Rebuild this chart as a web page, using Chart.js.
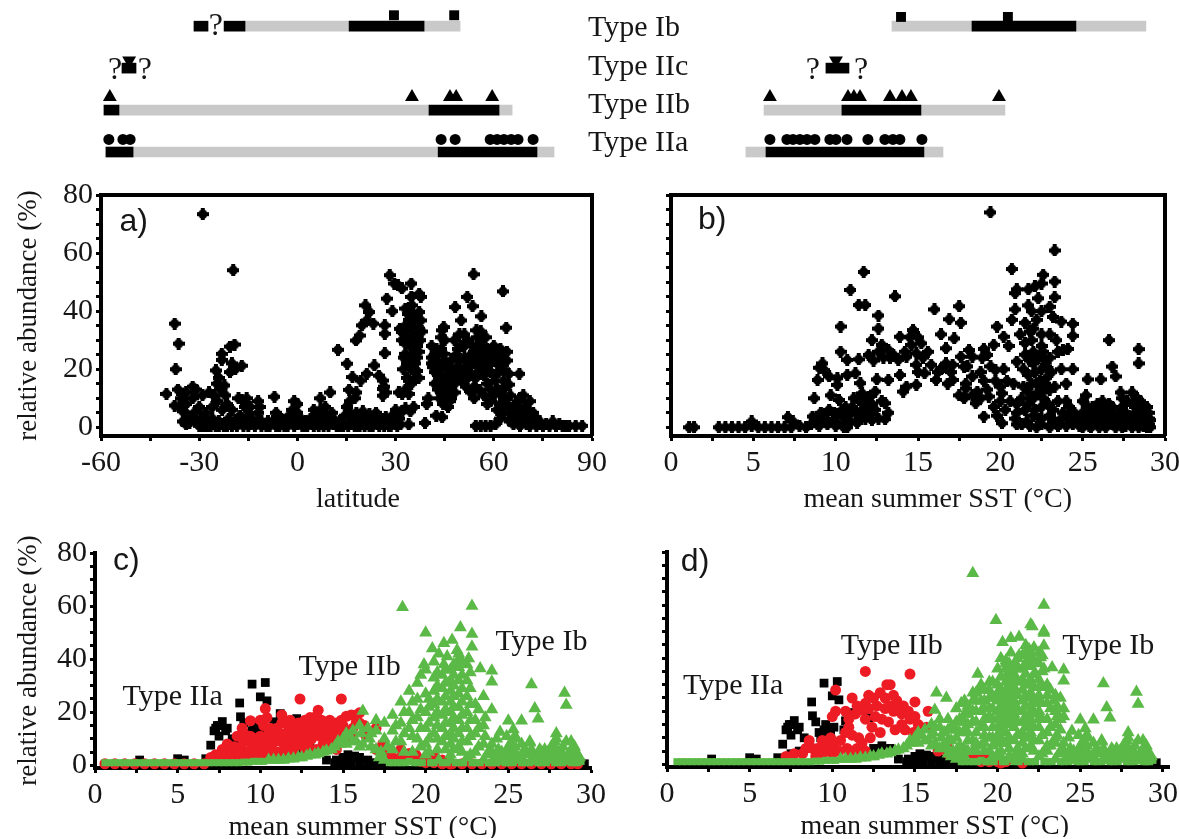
<!DOCTYPE html>
<html><head><meta charset="utf-8">
<script src="https://cdn.jsdelivr.net/npm/chart.js@4"></script>
<style>html,body{margin:0;background:#fff;width:1179px;height:839px;overflow:hidden}canvas{position:absolute}</style>
</head><body>
<script>
// ---------- range strips (top) ----------
const typeNames=['Type Ib','Type IIc','Type IIb','Type IIa'];
const latGrey=[[0,-16,15.8],[0,38.7,49.7],[2,-54.5,40.2],[2,61.6,65.6],[3,-50.2,43],[3,73.2,78.4]];
const latBlack=[[0,-31.6,-27.3],[0,-22.4,-16],[0,15.8,38.7],[1,-53.6,-49.3],[2,-59.1,-54.5],[2,40.2,61.6],[3,-58.5,-50.2],[3,43,73.2]];
const latSquares=[[29.5,-.26],[47.9,-.26]];
const latDown=[[-51.4,.82]];
const latTri=[[-57.3,1.69],[35,1.69],[46.6,1.69],[48.5,1.69],[59.5,1.69]];
const latCirc=[[-57.6,2.7],[-53.3,2.7],[-51.1,2.7],[43.9,2.7],[48.2,2.7],[58.9,2.7],[61,2.7],[63.1,2.7],[65.3,2.7],[67.4,2.7],[72,2.7]];
const latQ=[[-24.9,.0],[-55.7,1.06],[-46.6,1.06]];
const sstGrey=[[0,13.42,18.28],[0,24.59,28.84],[2,5.65,10.38],[2,15.18,20.28],[3,4.55,5.77],[3,15.36,16.52]];
const sstBlack=[[0,18.28,24.59],[1,9.41,10.81],[2,10.38,15.18],[3,5.77,15.36]];
const sstSquares=[[13.97,-.22],[20.46,-.22]];
const sstDown=[[10.02,.82]];
const sstTri=[[6.01,1.69],[10.75,1.69],[11.11,1.69],[11.48,1.69],[13.3,1.69],[14.03,1.69],[14.57,1.69],[19.92,1.69]];
const sstCirc=[[6.01,2.7],[7.04,2.7],[7.41,2.7],[7.83,2.7],[8.26,2.7],[8.74,2.7],[9.65,2.7],[10.02,2.7],[10.69,2.7],[11.96,2.7],[12.99,2.7],[13.48,2.7],[13.9,2.7],[15.24,2.7]];
const sstQ=[[8.62,1.06],[11.54,1.06]];
const labelRows=[.05,.98,1.88,2.79];

// ---------- panel a: latitude vs abundance ----------
const latAbund=[[-40,11.5],[-37.5,35.7],[-36.3,28.8],[-37.2,20],[-37.5,7.5],[-36.5,13],[-36,7],[-35.5,10],[-35,5.5],[-34,12],[-34,8],[-33.5,4],[-33,1.5],[-32,14],[-32,10],[-31.5,5],[-31,2],[-31,13],[-30,.5],[-30,7],[-29.5,3],[-29,11],[-28.9,73.4],[-28.5,.5],[-28,5],[-27.5,2],[-27,12],[-26.5,.5],[-26,7],[-26,3],[-25.5,11],[-25,.5],[-24.9,19.6],[-24.5,9],[-24,17],[-24.6,15],[-23.5,13],[-24,2],[-23.1,25.3],[-23.1,23.2],[-23,6],[-22.3,14.4],[-22.5,.5],[-22,11],[-21.5,8],[-21,3],[-20.6,27.8],[-19.2,28.5],[-20,22],[-20.6,19],[-19,20],[-17,21.2],[-19.6,54.1],[-20,6],[-20,.5],[-19,2],[-18,10],[-17,9.5],[-17.5,4],[-16.5,.5],[-16,7],[-15.5,10],[-15,4],[-14.5,1],[-14.5,7],[-13,.5],[-12,9],[-12,5],[-11.5,7],[-11,2],[-11,.5],[-10,1],[-8.5,.5],[-7.5,2],[-7,10.5],[-6.5,5],[-6,2],[-5.5,.5],[-5,3],[-4,1],[-3,.5],[-2.5,4],[-2,2],[-1.5,6],[-1,9],[-1,3],[0,8],[0,5],[0,1],[1,3],[1.5,.5],[2.5,2],[3,.5],[4,3],[4.5,1],[5,6],[5.5,2],[6,4],[6.5,.5],[7,10],[7,6],[7.5,3],[8,1],[8.5,7],[9,3],[9.5,.5],[10,12],[10.5,5],[11,1],[12,.5],[12.4,26.7],[13,2],[14,.5],[14.5,4],[15,7],[15.2,21.9],[15.8,12.9],[16,9],[16,5],[16.5,1],[17,3],[16.8,17.3],[17.5,10],[18,12],[18,5],[18.5,2],[19,.5],[19.3,16.1],[20,3],[20,5.5],[21.2,18.4],[17.9,29.9],[19,31.6],[19.7,35.1],[20.8,42],[22,39.7],[21.2,36.8],[23.2,35.7],[23.5,21.3],[24.9,17.8],[26.1,16.1],[26.1,13.2],[26.1,10.9],[26.7,35.1],[26.7,32.2],[26.7,25.5],[27.3,44.3],[28.2,52.4],[29,40],[29.6,49.5],[30.7,48.9],[31.9,47.8],[31.3,33.9],[31.9,32.8],[33,40.9],[34.8,49.5],[34.8,44.9],[37.2,46],[37.7,44.9],[37.2,39.7],[37.7,36.8],[34.8,39.7],[33.8,39],[34.8,34.5],[36.6,32.2],[33,28.8],[34.8,27.6],[36,26],[33,25.3],[34.8,24],[32.4,20],[34.8,20],[36.5,19.4],[34.8,15],[21,1],[22,4.5],[22,.5],[23,2.5],[24,5],[24.5,1],[25,.5],[26,3],[26.5,.5],[27,1],[28,2],[28.5,.5],[29,4],[30,1],[30,6],[31,3],[32,5.5],[33,6.5],[34,1],[34.5,5.5],[35.5,7],[31,12],[32,11.5],[33,13],[34,11.5],[39,1.5],[39.5,8],[40,10],[41,28],[41.5,20.7],[42.4,4],[44.2,3.5],[44.2,33.4],[44.7,34.5],[44.7,25.3],[42,25],[42,15],[43,18],[43,22],[44,12],[44,18],[45,9],[45,14],[45.5,21],[46,11],[46,17],[47,13],[47,23],[48,18],[48.2,41.4],[48.5,25],[48,30],[49.5,32],[49,21],[50,36.8],[51,24],[51,20],[51.9,44.9],[51,32],[52,17],[53,25],[53.5,41.7],[53.8,52.7],[54.7,33.4],[54,22],[54,14],[55,28],[55,19],[56.2,38.2],[56,25],[56,30],[57,11],[57,22],[58,27],[58,15],[59,9],[59,24],[60,18],[60,28],[61,13],[61,22],[62,27],[62,8],[62.8,46.8],[63,16],[63.8,34.3],[64,26],[64.6,18.4],[64.6,14.7],[63,5],[65,2],[67.8,18.4],[67,7],[68,10],[69,4],[69,11],[70,6],[71,9],[72,5],[66,1],[67,2],[68,.5],[70,1],[71,.5],[72,2],[73,.5],[74,2],[75,.5],[76,1],[77,.5],[78,2],[79,.5],[80,1],[81,.5],[82,.5],[83,.5],[85,.5],[87,.5],[54.5,.5],[56,.5],[57.5,.5],[59,.5],[60.5,1],[62,3]];
const latDense=[[41,24],[41,22],[42,19],[42,22],[42.5,27],[43,13],[43,25],[43.5,10],[43.5,16],[44,21],[44,27],[44,31],[44.5,8],[45,17],[45,23],[45,30],[45.5,11],[46,7],[46,14],[46,20],[46.5,9],[47,10],[47,16],[47.5,19],[48,12],[48,15],[49,17],[49,27],[49.5,23],[50,19],[50,28],[50.5,16],[51,28],[51.5,14],[52,23],[52,30],[52.5,21],[53,12],[53,18],[53.5,28],[54,10],[54,26],[54.5,17],[55,24],[55,31],[55.5,13],[56,21],[56,33],[56.5,28],[57,18],[57,25],[57.5,31],[58,8],[58,21],[58.5,24],[59,13],[59,19],[59.5,27],[60,11],[60,23],[60.5,16],[61,6],[61,25],[61.5,19],[62,12],[62,22],[62.5,24],[63,10],[63,20],[63.5,14],[64,8],[64,23],[65,5],[65,11],[65.5,3],[66,7],[66,4],[67,4],[67.5,9],[68,5],[68.5,2],[69.5,7],[70,3],[71,4],[72,3],[73,3],[74,1],[32,30],[33,35],[33,33],[34,31],[34,37],[34,41],[35,29],[35,36],[35,42],[35.5,23],[35.5,31],[36,38],[36,22],[36,17],[36.5,28],[36.5,24],[37,34],[37,17],[37.5,30],[32.5,24],[33.5,22],[33.5,17],[34,16],[37,26],[38,33],[-35,2],[-34,1],[-32.5,3],[-30.5,1.5],[-29,.5],[-27.5,.5],[-26,1],[-24,.5],[-23,1],[-21.5,.5],[-21,1.5],[-18.5,.5],[-18,3],[-16,2.5],[-15,.5],[-14,3],[-9.5,.5],[-9,2],[-6.5,.5],[-4,.5],[-3,3],[-1,.5],[2,.5],[3.5,1.5],[5,.5],[6,1],[7,1],[8,.5],[8,4],[9,1],[10,2],[11,3],[13,.5],[15.5,.5],[17.5,.5],[18,.5],[19.5,2.5],[20.5,.5],[21.5,2.5],[23,.5],[24,2.5],[25.5,2],[27,3.5],[28,.5],[29.5,1.5],[30.5,.5],[31.5,1],[27,12],[26.5,14]];

// ---------- panel b: SST vs abundance ----------
const sstAbund=[[1.1,0],[1.4,0],[2.9,0],[3.3,0],[3.7,0],[4.1,0],[4.5,0],[4.9,.5],[4.9,2],[5.3,0],[5.7,0],[6.1,0],[6.5,0],[6.9,0],[7.1,3.5],[7.4,2],[7.3,0],[7.8,.5],[8.2,0],[8.5,1],[8.6,3.7],[8.8,2],[9,.5],[8.7,10],[9.2,3],[9.5,1],[9.6,6],[9.7,11],[10,.5],[10.1,4],[10.2,9.4],[10.5,0],[10.6,3],[10.7,0],[10.9,5],[11.2,5],[11.4,9.4],[11.3,1.5],[11.6,11.7],[11.6,6],[11.8,3],[12,10.5],[12.2,2.5],[12.4,12.3],[12.4,6],[12.6,3],[13,8.3],[13,2.8],[9.2,22],[9,20.5],[9.3,19.7],[9.6,17.5],[8.9,16.3],[10.1,16.9],[10.1,14.6],[10.7,18],[11.2,18.6],[11.5,15.2],[10.3,26],[10.7,23.2],[11.4,23.4],[12,24.9],[12.2,30],[12.8,28.4],[13.2,26.6],[12.9,24],[13.9,31.2],[13.8,23.2],[12.5,16.5],[13.2,16.3],[13.9,18],[14.3,14],[14.1,12.3],[14.7,33.5],[14.6,28.4],[15.2,28.9],[14.9,25.5],[15.6,26],[15.8,21.5],[14.9,21.5],[14.3,24.3],[15.4,18.6],[14.9,14.6],[16.1,16.3],[16.4,32],[16.7,27.2],[16.6,20.9],[17.1,21.5],[17.1,16.3],[17.2,30.6],[17.6,24.3],[17.8,20.9],[17.5,11],[17.9,13.4],[17.8,10],[18.1,26.6],[18.3,24.3],[18.3,17.5],[18.6,12.3],[18.5,8.3],[19,3.7],[19.2,24.9],[19.3,10.6],[19,16],[19.6,28.4],[19.8,34.7],[20.2,31.2],[20.1,1.4],[20.3,6],[20.1,11.7],[19.7,19.7],[20.2,20],[21,22.6],[20.5,28],[20.8,15],[21,8],[21,5],[21.3,1],[21.5,6],[21.7,12],[21.7,18],[21.5,25],[21.9,30],[22,34],[22,22],[22,10],[22,4],[22.2,15],[22.2,0],[22.5,28],[22.5,32],[22.5,20],[22.5,12],[22.5,7],[22.5,1],[22.8,17],[23,24],[23,4],[23,0],[23.3,14],[23.4,30],[23.7,20],[23.7,3],[24,9],[24,15],[24.4,20],[24.4,1],[24.5,5],[25,2],[25,0],[25.2,11],[25.5,4],[25.6,1],[26,3],[26,0],[26.2,9],[26.5,5],[26.5,1],[27,3],[27,0],[27.4,7],[27.5,3],[27.9,1],[28,0],[28,12],[28.2,5],[28.5,9],[28.7,2],[28.9,0],[29,3],[29,1],[28.9,7],[28.2,2],[27.8,4],[27.4,1.5],[26.8,5],[26.3,2],[25.8,6],[25.3,7],[24.8,3],[24.3,2],[19.4,74],[23.3,60.9],[11.7,53.5],[10.9,47.3],[13.6,45.1],[11.4,42.1],[11.8,42.1],[12.6,38.5],[12.6,34],[10.3,34.7],[16,40.6],[17.5,41.7],[16.9,37.2],[17.6,36],[20.7,54.5],[22.6,52.5],[23.3,50.2],[21.7,47.5],[22.1,48.5],[22.5,49.5],[20.9,46.2],[21,47.5],[22.3,44.4],[23.3,44.8],[20.7,37],[20.9,40.6],[21.7,42],[21.9,40],[22.5,40],[23,41.5],[23.2,38],[23.7,36.4],[24.4,35.6],[24.4,31.5],[26.6,30],[28.4,26.9],[28.4,22],[26.8,20.9],[27,17.5],[26.1,16.5],[25.3,16.5],[21.2,32],[22.2,37],[21.5,36],[23,32],[22.6,26],[23.8,26.5],[24.1,27],[23.5,26],[22.7,23]];
const sstDense=[[21,1],[21.8,.5],[22.4,3],[23.2,2],[23.5,.5],[23.8,5],[24,.5],[24.6,3],[24.8,.5],[25.2,2],[25.4,5],[25.5,0],[25.8,3],[26.2,5],[26.4,0],[26.6,3],[26.8,1],[27.2,2],[27.4,0],[27.6,5],[27.7,1.5],[28,3],[28.2,7],[28.4,0],[28.4,4],[28.5,1],[28.6,6],[28.8,4],[29,5],[29.1,0],[25,5],[24.2,7],[25,9],[25.9,8],[26.6,8],[27.4,10],[27.5,5],[27.3,12],[21.3,10],[21.4,14],[21.4,20],[21.5,29],[21.6,2],[21.7,8],[21.8,23],[21.8,33],[21.9,15],[22,26],[22.1,19],[22.1,6],[22.3,12],[22.3,24],[22.4,16],[22.5,3],[22.6,10],[22.7,15],[22.8,21],[22.9,8],[23,13],[23.1,19],[23.2,6],[23.5,9],[8.9,1],[9.4,3],[9.9,2],[10.4,1],[10.4,6],[10.9,2],[11,7],[11.1,10],[11.5,3],[11.9,8],[12.1,5],[12.2,8],[12.8,9],[13.2,5],[9.1,5],[9.9,5],[10.6,7],[12.3,23],[12.6,26],[13.3,24],[13.5,25],[14.2,26],[14.5,31],[15,31],[15.3,24],[15,19],[16.2,19],[16.4,20],[16.7,22],[17,19],[16.8,15],[18,21],[18.8,19],[18.9,24],[19,27],[19.4,21],[19.7,16],[20,14],[20.4,16],[20,9],[20.6,9],[20.9,3],[19.6,7],[19.8,4],[19.2,13],[18.8,10],[18.3,11],[17.9,15],[23.6,1],[24.1,4],[24.9,1.5],[25.4,.5],[25.9,1.5],[26.1,4],[26.7,2],[27.1,4],[27.6,.5],[28.1,1.5],[28.3,3],[28.7,.5],[28.9,2],[29.1,2.5],[27.4,6],[27.7,9],[28.1,8],[28.6,8],[28.3,10],[26.8,7],[26.2,7],[25.6,7]];

// ---------- panels c, d: three types vs SST ----------
const ibLow=[[.6,1],[1.2,1],[1.8,1],[2.4,1],[3,1],[3.6,1],[4.2,1],[4.8,1],[5.4,1],[6,1],[6.6,1],[7.2,1],[7.8,1],[8.4,1],[9,1.2],[9.6,1.5],[10.2,1.5],[10.8,2],[11.4,2],[12,2.5],[12.5,3],[13,4],[13.5,4.5],[14,5.5],[14.5,7],[15,10],[15.4,11],[15.8,9],[16.2,8],[16.6,10],[17,6],[17.5,2],[18,1],[18.5,1],[19,1.5],[19.5,1],[20,4],[20.5,1],[21,1],[21.5,2],[22,1],[22.5,3],[23,1],[23.5,2],[24,1],[24.5,1.5],[25,1],[25.5,2],[26,1],[26.5,1.5],[27,1],[27.5,2],[28,1],[28.5,1.5],[29,1],[29.4,1.5],[23,5],[24,5],[25,5],[26,5],[27,5],[28,5],[29,4],[23.5,8],[25,7],[25.8,8],[26.3,9],[27.2,6],[27.8,9],[27.9,12],[28.5,9],[29,7]];
const ibLowHalf=[[.9,1],[1.5,1],[2.1,1],[2.7,1],[3.3,1],[3.9,1],[4.5,1],[5.1,1],[5.7,1],[6.3,1],[6.9,1],[7.5,1],[8.1,1],[8.7,1],[9.3,1.2],[9.9,1.5],[10.5,2],[11.1,2],[11.7,2.5],[12.3,3],[12.8,3.5],[13.3,4],[13.8,5],[14.3,6],[14.8,8],[17.2,3],[17.8,1],[18.3,1],[18.8,1],[19.3,1],[19.8,1],[20.3,1],[20.8,2],[21.3,1],[21.8,1],[22.3,1],[22.8,1],[23.3,1],[23.8,1],[24.3,1],[24.8,1],[25.3,1],[25.8,1],[26.3,1],[26.8,1],[27.3,1],[27.8,1],[28.3,1],[28.8,1],[29.2,1]];
const ibMound=[[24.2,3],[24.6,5],[24.6,3],[25,3],[25.2,5],[25.5,4],[25.8,3],[26,6],[26.2,4],[26.5,3],[26.8,4],[27,3],[27.2,3],[27.5,4],[27.6,7],[28,3],[28.2,5],[28.3,7],[28.6,4],[28.8,6],[29,3],[29.2,4],[25.2,9],[26.3,8.5],[25.4,11],[28.8,9],[27.9,10],[23.7,4],[24.3,10],[24.9,11],[25.5,10],[23.9,6],[24.4,6],[24.9,4],[25.4,7],[25.9,5],[26.4,6],[26.9,6],[27.4,5],[27.9,6],[28.4,3],[28.9,4],[29.3,3],[26.7,3],[27.7,3],[25.3,3],[14.7,9],[15.2,8],[16.7,7]];
const ibMass=[[21.2,6],[21.2,11],[21.2,16],[21.2,21],[21.2,26],[21.2,31],[21.2,36],[21.7,6],[21.7,10],[21.7,14],[21.7,18],[21.7,22],[21.7,26],[21.7,30],[21.7,34],[21.7,38],[22.2,5],[22.2,9],[22.2,14],[22.2,19],[22.2,24],[22.2,29],[22.2,34],[22.2,39],[20.7,6],[20.7,10],[20.7,15],[20.7,20],[20.7,25],[20.7,30],[20.7,35],[22.7,4],[22.7,11],[22.7,17],[22.7,23],[22.7,29],[22.7,35],[20.2,5],[20.2,10],[20.2,16],[20.2,22],[20.2,25],[19.7,7],[19.7,14],[19.7,21],[19.2,5],[19.2,11],[19.2,17],[19.2,24],[18.7,5],[18.7,12],[18.7,20],[18.2,9],[18.2,15],[17.7,7],[17.3,5],[16.7,12],[16,15],[16.1,12],[15.2,12],[15.6,9],[16,7],[23.2,7],[23.2,14],[23.2,21],[23.6,11],[23.6,18],[20,36],[19.5,31],[20.5,39],[21.3,41],[22,42]];
const ibPeaks=[[21.5,4],[21.5,8],[21.5,12],[21.5,16],[21.5,20],[21.5,24],[21.5,28],[21.5,32],[21.5,36],[21,9],[21,14],[21,19],[21,24],[21,29],[21,34],[22,7],[22,12],[22,17],[22,22],[22,27],[22,32],[22,37],[20.5,12],[20.5,18],[20.5,23],[20.5,28],[20.5,33],[22.5,9],[22.5,14],[22.5,20],[22.5,26],[22.5,32],[22.5,38],[23,12],[23,17],[23,23],[20,8],[20,14],[20,20],[20,27],[19.5,10],[19.5,18],[19.5,25],[19,14],[19,20],[19,28],[18.5,9],[18.5,16],[18.5,24],[18,6],[18,13],[18,19],[17.5,10],[17.5,16],[17,13],[17,17],[16.5,14],[16.2,20.5],[15.6,13],[22.8,44.7],[22.6,40.3],[21.9,43.4],[21.1,38],[20.8,42],[22,40]];
const ibTops=[[22.8,60],[22.1,51.9],[22.8,49.5],[23.3,36.5],[24,35.6],[24,31.5],[26.4,30.5],[28.4,27.3],[28.5,22.7],[26.6,21.4],[26.8,17.6],[25.8,16.8],[25,16.8],[25.3,13.5],[24.5,12.6],[23.5,26],[24,21],[23.5,15],[24,8]];
const ibTopsC=[[18.6,59.6],[20,50],[20.4,44],[21.1,46],[21.6,47.2],[19.9,38],[19.7,34]];
const ibTopsD=[[18.5,72],[19.9,54.3],[22,52.7],[22.8,50.2],[21.7,44.9],[20.3,46],[20.8,47.5],[21.3,48],[20.2,40],[20.5,38],[18.8,34],[16.3,27],[16.9,25],[17.5,21],[17.8,23]];
const ibFillD=[[16,11],[16.5,17],[17,9],[17.5,5],[18,3],[18.5,5],[19,7],[19.5,5],[20,11],[20,17],[20,24],[20,30],[19.5,21],[19.5,28],[19,24],[19,30],[18.5,20],[18.5,27],[18,16],[18,24],[17.5,13],[20.5,8],[20.5,15],[20.5,21],[20.5,26],[20.5,31],[20.5,36],[21,3],[21,17],[21,22],[21,27],[21,32],[21,37],[21.5,41],[22,30],[22,25],[22,20],[22,15],[22,10],[22.5,42],[22.5,29],[22.5,23],[22.5,17],[23,7],[23,30],[23.5,20],[23.5,10],[22.3,34],[22.8,36],[21.7,38],[16.2,14],[16.8,12],[17.2,9],[17.2,14],[17.7,4],[17.7,12],[17.7,17],[18.2,5],[18.2,12],[18.2,19],[18.2,22],[18.7,8],[18.7,16],[18.7,24],[18.7,27],[19.2,8],[19.2,14],[19.2,21],[19.2,28],[19.7,3],[19.7,10],[19.7,17],[19.7,25],[19.7,31],[20.2,3],[20.2,8],[20.2,13],[20.2,19],[20.2,28],[20.2,33],[20.7,3],[20.7,38],[21.2,3],[21.2,40],[21.7,42],[22.2,44],[22.7,41],[23,26],[23.2,28],[23.4,24],[23.6,22],[23.8,17],[23.8,13],[23.8,25],[24,18],[17,4],[16.5,6]];
const ilaBase=[[2.7,2],[5,2.5],[5.4,2],[6.7,2.5],[12.5,6],[13,7],[13.5,6],[14.6,2],[15,3],[15.3,4],[15.7,3.5],[16,3],[16.5,2],[17,1],[17.5,.6],[18,.6],[29.6,.6],[14.5,1],[15,1],[15.5,1],[16,1],[16.5,1],[14,2]];
const ilaPeaks=[[7,7.6],[7.2,13],[7.4,15],[7.7,16.5],[7.9,13],[7.5,11],[8.3,10],[8.6,8],[8.75,23.5],[8.8,18.3],[9,16],[9.2,12],[9.5,30.6],[9.5,13],[9.6,15],[9.9,11],[10,25.8],[10.3,31.2],[10.4,24.3],[10.8,16.4],[11.2,19.5],[12.2,17.6],[10,6],[9,5],[8,5],[7.5,4],[7.5,15],[7.3,14],[8,14],[9.3,10],[9.7,12],[10.1,14],[10.7,13]];
const iibBase=[[17,6],[17.5,4],[18.5,2],[19,3],[19.5,2],[20,1],[20.5,1],[21.5,.5]];
const iibStrip=[[.6,.6],[1.2,.6],[1.8,.6],[2.4,.6],[3,.6],[3.6,.6],[4.2,.6],[4.8,.6],[5.4,.6],[6,.6],[6.6,.6],[21,.6],[21.6,.6],[22.2,.6],[22.8,.6],[23.4,.6],[24,.6],[24.6,.6],[25.2,.6],[25.8,.6],[26.4,.6],[27,.6],[27.6,.6],[28.2,.6],[28.8,.6],[29.2,.6]];
const iibC=[[12.4,25],[14.9,25],[10.3,21.4],[10.4,18],[9.4,16.8],[10,17],[11.3,19],[13.5,20.8],[13.4,18.5],[15.5,19],[16,19.8],[7.3,4],[7.7,6],[8,8],[8.5,4],[8.6,11],[8.8,7],[9.2,5],[9.4,8.5],[9.8,6.5],[10,4],[10.4,9],[10.7,12],[11,5],[11,14],[11.3,10],[11.6,7],[11.7,15],[12,12],[12.2,9],[12.5,15],[12.7,6],[12.9,13],[13.1,10],[13.3,16],[13.6,14],[13.9,11],[14.2,17],[14.4,14],[14.6,16],[14.8,11],[15.2,9],[15.6,14],[16,16],[16.4,11],[17,14],[17.4,8],[18.5,3],[19.4,4],[20.3,2],[21,2],[7,3],[7.5,3.5],[8,3],[8.2,5],[8.4,7],[8.8,4],[9,9],[9.2,3],[9.6,5],[9.7,10],[10,8],[10.2,5],[10.6,7],[10.8,4],[10.9,9],[11.1,12],[11.4,5],[11.4,8],[11.5,12],[11.8,10],[11.9,13],[12,5],[12.2,14],[12.4,11],[12.6,12],[12.6,8],[12.7,17],[12.9,10],[13,15],[13.2,12],[13.3,18],[13.4,14],[13.6,11],[13.7,17],[13.8,8],[14,13],[14,15],[14.2,10],[14.4,12],[14.6,9],[14.7,13],[13.5,16],[12.8,14],[11,10],[10.5,12],[10,11],[15.8,16],[16.3,15],[15.8,19],[15.2,18.5],[18,3],[18.5,6],[19,4.5],[20,3],[19.7,1.5],[20.5,3.5],[9,12],[9.4,11],[8.9,14],[10.6,14],[10.2,15],[11.3,16],[11.8,17],[12.3,16],[13,18],[12.1,7],[11.2,3],[9.5,3],[10.3,3],[12.9,8],[13.4,6],[14,7],[14.6,6],[15.2,12],[15.5,11],[15,15],[14.9,17]];
const iibD=[[12,35],[14.7,34],[13.3,30],[13.5,30],[10.2,28],[11.2,25],[12.2,26],[12.5,25],[12.9,27],[13.2,25],[13.7,26],[13.9,24],[15,23.5],[10.2,20],[10,18],[15.8,20],[14.3,22],[14.6,20],[11,17],[11.4,19],[11.8,20.5],[12.2,21],[12.7,22],[13.2,21],[13.7,20],[14.2,19],[14.7,17],[15.2,15],[15.7,14],[14.9,12],[13.8,13],[14.4,13],[12.4,14],[12.9,12],[12.3,10],[11.6,10],[11.2,11],[10.8,12],[10.5,9],[10.1,7],[9.6,7],[9.1,6],[8.6,9],[8.2,4],[7.7,4],[7.2,3],[9,3],[10,4],[11,3],[11.5,6],[12,5],[8.4,6],[9.4,9],[9.9,10],[13,17],[12,17],[11,14],[16.4,5],[17,4],[17.5,3],[18,2],[18.5,2],[19,1],[19.5,1],[20.2,.5],[8.8,6],[9.4,4],[9.8,5],[10.4,5],[10.9,6],[11.3,5],[11.8,8],[12.6,18],[13.5,22],[14,22],[12,23],[11.5,22],[10.8,20],[13.4,16],[14.2,15],[15,18]];

// ---------- drawing helpers ----------
const serif='"Liberation Serif"', ink='#161616';
const red='#ed1c24', green='#5bb947';
function blob(){const c=document.createElement('canvas');c.width=c.height=12;const g=c.getContext('2d');g.fillStyle='#000';
 g.fillRect(4,0,4,12);g.fillRect(0,4,12,4);g.beginPath();g.arc(6,6,4.7,0,7);g.fill();return c;}
const pts=a=>a.map(p=>({x:p[0],y:p[1]}));
const annot={id:'annot',afterDraw(ch){const items=ch.options.plugins.annot.items||[];const c=ch.ctx;c.save();c.fillStyle=ink;c.textAlign='center';c.textBaseline='middle';
 items.forEach(t=>{c.font=t.font;c.fillText(t.text,ch.scales.x.getPixelForValue(t.x),ch.scales.y.getPixelForValue(t.y));});c.restore();}};
const frame={id:'frame',afterDraw(ch){if(!ch.options.plugins.frame.on)return;const a=ch.chartArea,c=ch.ctx;c.save();c.strokeStyle='#000';c.lineWidth=4;c.beginPath();c.moveTo(a.left,a.top);c.lineTo(a.right,a.top);c.lineTo(a.right,a.bottom);c.stroke();c.restore();}};
function place(id,box){const c=document.createElement('canvas');c.id=id;c.width=box.w;c.height=box.h;c.style.left=box.x+'px';c.style.top=box.y+'px';c.style.width=box.w+'px';c.style.height=box.h+'px';document.body.appendChild(c);return c;}

function panel(id,o){
 const mL=o.ytitle?o.l-13:100,mT=22,mR=Math.min(28,1179-o.r),mB=o.mB;
 const cv=place(id,{x:o.l-mL,y:o.t-mT,w:o.r-o.l+mL+mR,h:o.b-o.t+mT+mB});
 return new Chart(cv,{type:'scatter',data:{datasets:o.sets},plugins:[annot,frame],options:{
  responsive:false,animation:false,layout:{autoPadding:false,padding:{top:mT,right:mR,left:0,bottom:0}},
  plugins:{legend:{display:false},tooltip:{enabled:false},annot:{items:o.text},frame:{on:o.frame}},
  scales:{
   x:{type:'linear',min:o.xmin,max:o.xmax,grid:{drawOnChartArea:false,drawTicks:true,tickLength:5,tickWidth:3,tickColor:'#000'},
      border:{color:'#000',width:o.axisW},
      afterFit(s){s.height=mB;s.paddingLeft=0;s.paddingRight=0;},
      ticks:{stepSize:o.xstep,autoSkip:false,maxRotation:0,includeBounds:false,padding:4,color:ink,font:{family:serif,size:30},callback:v=>v%o.xlab===0?v:''}},
   y:{type:'linear',min:o.ymin,max:80,grid:{drawOnChartArea:false,tickLength:5,tickWidth:3,tickColor:'#000'},
      border:{color:'#000',width:o.axisW},
      afterFit(s){s.width=mL;s.paddingTop=0;s.paddingBottom=0;},
      title:{display:o.ytitle,text:'relative abundance (%)',color:ink,font:{family:serif,size:27},padding:{top:0,bottom:0}},
      ticks:{stepSize:5,autoSkip:false,includeBounds:false,padding:3,color:ink,font:{family:serif,size:30},callback:v=>(o.ylabels&&v%20===0)?v:''}}
  }}});
}
function bars(list,color){return {type:'bar',indexAxis:'y',grouped:false,barThickness:10,backgroundColor:color,borderWidth:0,order:color==='#000'?1:2,data:list.map(r=>({y:r[0],x:[r[1],r[2]]}))};}
function marks(list,style,r,rot){return {type:'scatter',data:pts(list),pointStyle:style,pointRadius:r,pointRotation:rot||0,backgroundColor:'#000',borderColor:'#000',borderWidth:0,clip:false,order:0};}
function strip(id,box,xmin,xmax,sets,text,showLabels){
 const cv=place(id,box);
 return new Chart(cv,{type:'scatter',data:{datasets:sets},plugins:[annot],options:{responsive:false,animation:false,
  layout:{autoPadding:false,padding:0},
  plugins:{legend:{display:false},tooltip:{enabled:false},annot:{items:text},frame:{on:false}},
  scales:{x:{type:'linear',display:false,offset:false,min:xmin,max:xmax},
   y:{type:'linear',display:showLabels,offset:false,reverse:true,min:-.6,max:3.5,grid:{display:false,drawTicks:false,offset:false},border:{display:false},
      afterFit(s){s.width=0;s.paddingTop=0;s.paddingBottom=0;},
      afterBuildTicks(s){s.ticks=labelRows.map(v=>({value:v}));},
      ticks:{mirror:true,padding:3,color:ink,font:{family:serif,size:30},callback:(v,i)=>typeNames[i]}}}}});
}
const q=a=>a.map(p=>({text:'?',x:p[0],y:p[1],font:'32px '+serif}));
const lblFont='30px '+serif, letter='32px "Liberation Sans"';
function xt(x,y){return {text:'mean summer SST (\u00b0C)',x,y,font:'28px '+serif};}

// ---------- charts ----------
strip('stripLat',{x:101,y:1,w:491,h:172},-60,90,[bars(latGrey,'#c9c9c9'),bars(latBlack,'#000'),marks(latSquares,'rect',7),marks(latDown,'triangle',8,180),marks(latTri,'triangle',8),marks(latCirc,'circle',5.5)],q(latQ),false);
strip('stripSst',{x:585,y:1,w:580,h:172},-5.22,30,[bars(sstGrey,'#c9c9c9'),bars(sstBlack,'#000'),marks(sstSquares,'rect',7),marks(sstDown,'triangle',8,180),marks(sstTri,'triangle',8),marks(sstCirc,'circle',5.5)],q(sstQ),true);

const blobMark=blob();
function blobSet(a){return {data:pts(a),pointStyle:blobMark,pointRadius:6,clip:false};}
panel('a',{l:101,t:195,r:592,b:436,mB:76,xmin:-60,xmax:90,xstep:15,xlab:30,ymin:-3,axisW:4,frame:true,ytitle:true,ylabels:true,
 sets:[blobSet(latAbund.concat(latDense))],text:[{text:'a)',x:-50,y:70.8,font:letter},{text:'latitude',x:18.5,y:-25,font:'28px '+serif}]});
panel('b',{l:671,t:195,r:1165,b:436,mB:76,xmin:0,xmax:30,xstep:2.5,xlab:5,ymin:-3,axisW:4,frame:true,ytitle:false,ylabels:false,
 sets:[blobSet(sstAbund.concat(sstDense))],text:[{text:'b)',x:2.5,y:71.4,font:letter},xt(16.2,-25)]});
const isBand=c=>c.raw&&c.raw.y<=1.5;
// Chart.js paints the first dataset on top, so Type Ib comes first.
function typeSets(black,redPts,greenPts){return [
 {data:pts(greenPts),pointStyle:c=>isBand(c)?'rect':'triangle',pointRadius:c=>isBand(c)?5:7.5,backgroundColor:green,borderWidth:0,clip:false},
 {data:pts(redPts),pointStyle:'circle',pointRadius:5.5,backgroundColor:red,borderWidth:0,clip:false},
 {data:pts(black),pointStyle:'rect',pointRadius:6.2,backgroundColor:'#000',borderWidth:0,clip:false}];}
const greenBase=ibLow.concat(ibLowHalf,ibMound,ibPeaks,ibTops);
panel('c',{l:95,t:553,r:591,b:768,mB:70,xmin:0,xmax:30,xstep:2.5,xlab:5,ymin:-1,axisW:4,frame:false,ytitle:true,ylabels:true,
 sets:typeSets(ilaBase.concat(ilaPeaks),iibBase.concat(iibStrip,iibC),greenBase.concat(ibMass,ibTopsC)),
 text:[{text:'c)',x:1.9,y:76.8,font:letter},{text:'Type IIa',x:4.7,y:25.8,font:lblFont},{text:'Type IIb',x:15.4,y:37,font:lblFont},{text:'Type Ib',x:27,y:46.6,font:lblFont},xt(16.2,-23.5)]});
panel('d',{l:667,t:552,r:1169,b:767,mB:70,xmin:0,xmax:30.37,xstep:2.5,xlab:5,ymin:-1,axisW:4,frame:false,ytitle:false,ylabels:false,
 sets:typeSets(ilaBase.concat(ilaPeaks),iibBase.concat(iibD),greenBase.concat(ibMass,ibTopsD,ibFillD)),
 text:[{text:'d)',x:1.7,y:76,font:letter},{text:'Type IIa',x:4,y:29.5,font:lblFont},{text:'Type IIb',x:13.6,y:44.5,font:lblFont},{text:'Type Ib',x:26.7,y:44.5,font:lblFont},xt(16.2,-23.5)]});
</script>
</body></html>
